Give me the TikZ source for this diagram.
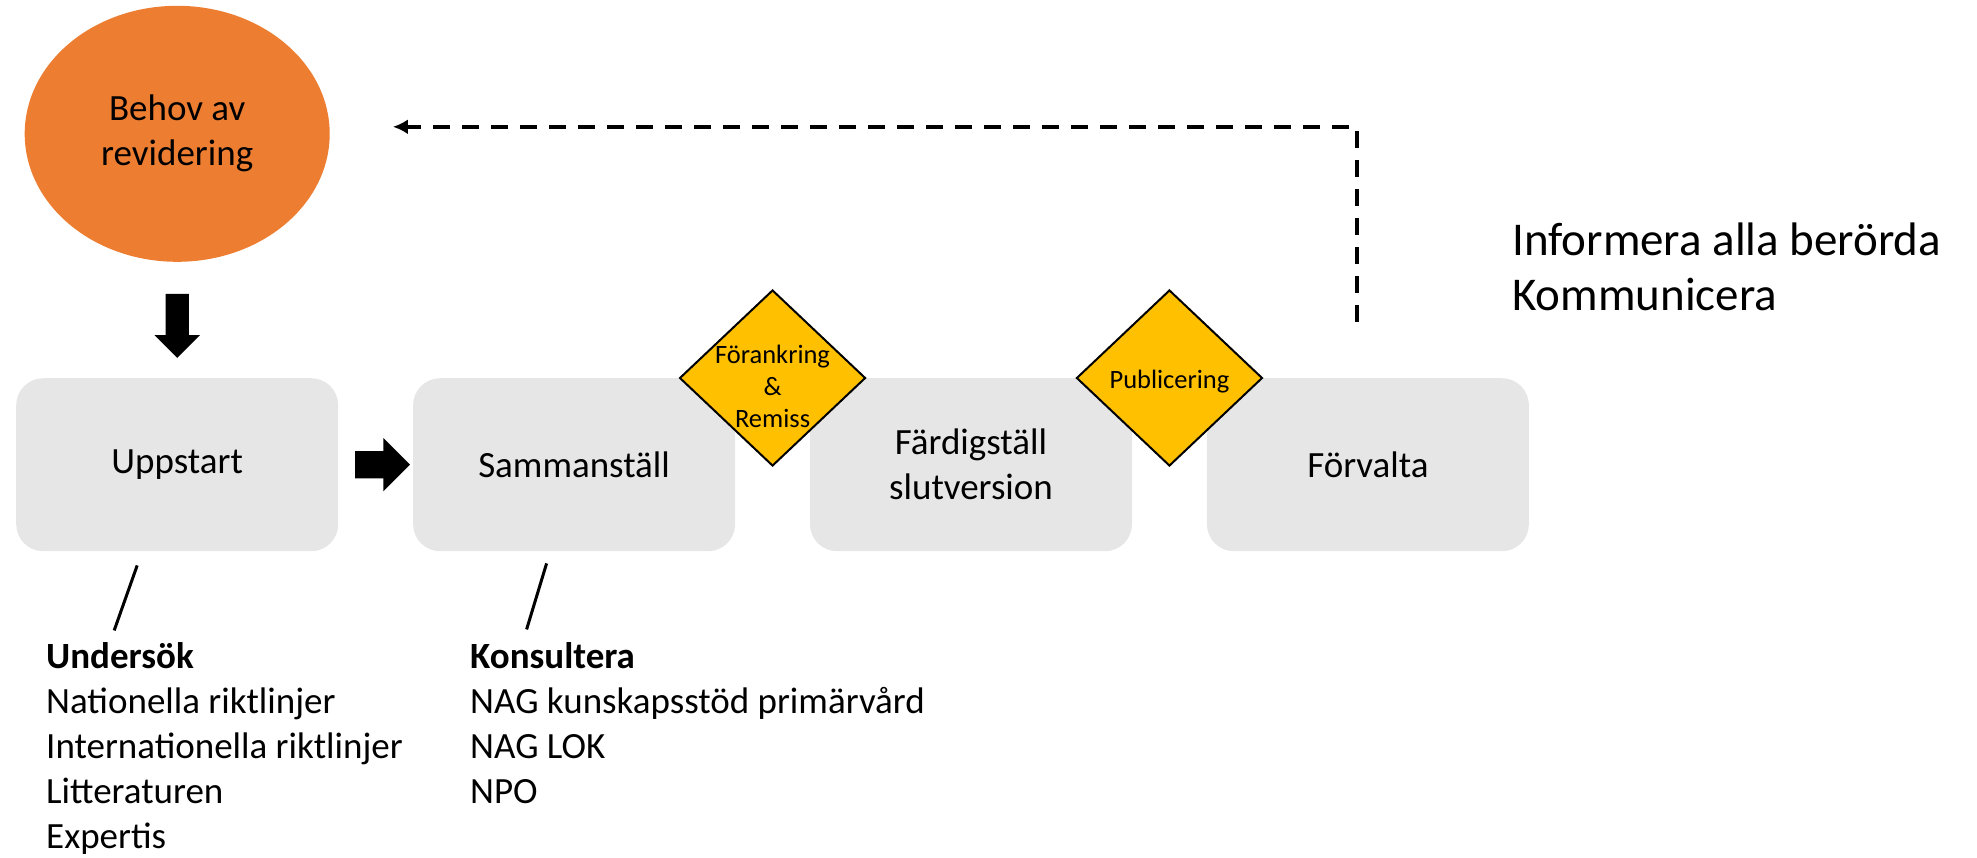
\documentclass[tikz,border=0pt]{standalone}
\usepackage{fontspec}
\setmainfont{Carlito}
\usetikzlibrary{arrows.meta,positioning,shapes.geometric,shapes.arrows,calc}
\definecolor{stepgray}{RGB}{230,230,230}
\definecolor{needorange}{RGB}{237,125,49}
\definecolor{gold}{RGB}{255,192,0}

\begin{document}
\begin{tikzpicture}[x=1pt, y=-1pt, node distance=74.5pt and 74.5pt,
  every node/.style={font=\fontsize{37}{45}\selectfont},
  box/.style={fill=stepgray, rounded corners=27pt, align=center, minimum width=322pt, minimum height=173pt, inner sep=0pt},
  gate/.style={diamond, draw=black, line width=2pt, fill=gold, minimum width=186pt, minimum height=176pt, inner sep=0pt},
  gatetxt/.style={font=\fontsize{26.5}{32}\selectfont, align=center, inner sep=0pt},
  blk/.style={single arrow, fill=black, inner xsep=0pt},
  fb/.style={-{Latex[length=15pt, width=15pt]}, line width=4pt, dash pattern=on 17pt off 12pt},
  tick/.style={line width=3pt},
  list/.style={align=left, anchor=north west, inner sep=0pt}]
\useasboundingbox (0,0) rectangle (1977,857);
\node[box, anchor=north west] (start) at (16,378) {Uppstart};
\node[box, right=of start] (collect) {Sammanställ};
\node[box, right=of collect] (finish) {Färdigställ\\slutversion};
\node[box, right=of finish] (manage) {Förvalta};
\node[ellipse, fill=needorange, minimum width=305pt, minimum height=256pt, align=center, above=116pt of start] (need) {Behov av\\revidering};
\node[gate, label={[gatetxt, yshift=-8pt]center:Förankring\\\&\\Remiss}] (anchoring) at ($(collect.north east)!0.5!(finish.north west)$) {};
\node[gate, label={[gatetxt, yshift=-4pt]center:Publicering}] (publish) at ($(finish.north east)!0.5!(manage.north west)$) {};
\node[blk, rotate=-90, inner ysep=11.5pt, single arrow head extend=11pt, minimum height=64pt] (down) at ($(need.south)!0.5!(start.north)$) {};
\node[blk, inner ysep=13.5pt, single arrow head extend=13pt, minimum height=55pt] (next) at ($(start.east)!0.5!(collect.west)$) {};
\coordinate (fbfrom) at ([xshift=-10.5pt, yshift=56.5pt]manage.north);
\coordinate (fbto) at ([xshift=63pt, yshift=7pt]need.east);
\draw[fb] (fbfrom) |- (fbto);
\node[list] (explore) at (46,642) {\textbf{Undersök}\\Nationella riktlinjer\\Internationella riktlinjer\\Litteraturen\\Expertis};
\node[list] (consult) at (470,642) {\textbf{Konsultera}\\NAG kunskapsstöd primärvård\\NAG LOK\\NPO};
\node[list, font=\fontsize{47}{55}\selectfont] (inform) at (1512,223) {Informera alla berörda\\Kommunicera};
\draw[tick] ([xshift=-40pt, yshift=-14pt]start.south) -- ([xshift=-63pt, yshift=-79pt]start.south);
\draw[tick] ([xshift=-27.5pt, yshift=-12pt]collect.south) -- ([xshift=-47.5pt, yshift=-78pt]collect.south);
\end{tikzpicture}
\end{document}
